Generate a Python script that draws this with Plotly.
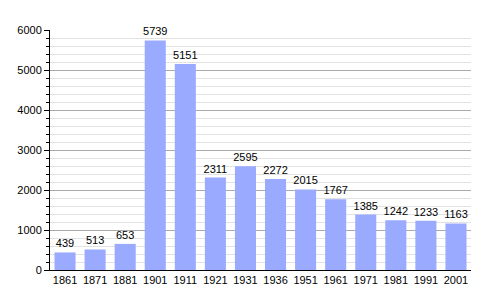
import plotly.graph_objects as go

years = ["1861", "1871", "1881", "1901", "1911", "1921", "1931", "1936", "1951", "1961", "1971", "1981", "1991", "2001"]
population = [439, 513, 653, 5739, 5151, 2311, 2595, 2272, 2015, 1767, 1385, 1242, 1233, 1163]
y_ticks = [0, 1000, 2000, 3000, 4000, 5000, 6000]

fig = go.Figure(go.Bar(
    x=years, y=population,
    marker=dict(color="#99aaff", line=dict(width=0)),
    text=[str(v) for v in population], textposition="outside",
    textfont=dict(family="Liberation Sans, Arial", size=11, color="black"),
    cliponaxis=False,
))
fig.update_layout(
    width=500, height=300,
    margin=dict(l=50, r=29, t=30, b=30),
    paper_bgcolor="white", plot_bgcolor="white",
    bargap=0.3, showlegend=False,
    uniformtext=dict(minsize=11, mode="show"),
    font=dict(family="Liberation Sans, Arial", size=11, color="black"),
)
fig.update_xaxes(showline=True, linecolor="black", linewidth=1, ticks="", tickfont=dict(size=11, color="black"))
fig.update_yaxes(range=[0, 6000], tickvals=y_ticks, showline=True, linecolor="black", linewidth=1,
                 gridcolor="#aaaaaa", gridwidth=1, ticks="outside", ticklen=5, tickcolor="black",
                 zeroline=False, tickfont=dict(size=11, color="black"),
                 minor=dict(dtick=200, showgrid=True, gridcolor="#e2e2e2", ticks="outside", ticklen=3, tickcolor="black"))
fig.write_html("out.html")
